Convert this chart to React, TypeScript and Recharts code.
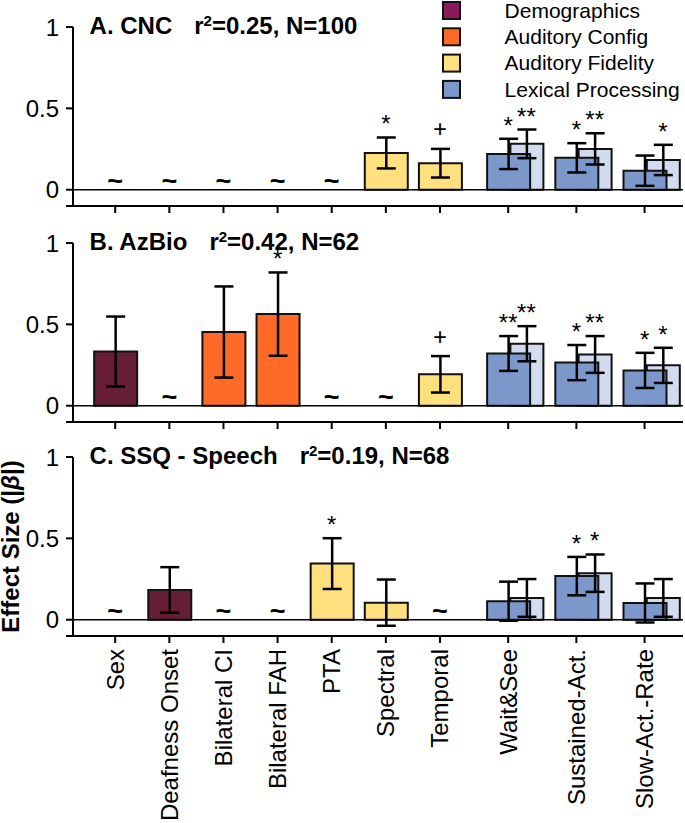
import React from 'react';
import { ComposedChart, Bar, Cell, ErrorBar, XAxis, YAxis, ReferenceLine, Scatter } from 'recharts';

const categories = ['Sex', 'Deafness Onset', 'Bilateral CI', 'Bilateral FAH', 'PTA', 'Spectral', 'Temporal', 'Wait&See', 'Sustained-Act.', 'Slow-Act.-Rate'];
const categoryGroups = ['Demographics', 'Demographics', 'Auditory Config', 'Auditory Config', 'Auditory Fidelity', 'Auditory Fidelity', 'Auditory Fidelity', 'Lexical Processing', 'Lexical Processing', 'Lexical Processing'];
const groupNames = ['Demographics', 'Auditory Config', 'Auditory Fidelity', 'Lexical Processing'];
const yTicks = [-0.1, 0, 0.5, 1];

// A. CNC
const cncValues = [null, null, null, null, null, 0.226, 0.163, 0.22, 0.196, 0.117];
const cncErrors = [null, null, null, null, null, 0.095, 0.088, 0.093, 0.09, 0.093];
const cncMarks = ['', '', '', '', '', '*', '+', '*', '*', ''];
const cncValues2 = [null, null, null, null, null, null, null, 0.282, 0.251, 0.183];
const cncErrors2 = [null, null, null, null, null, null, null, 0.088, 0.096, 0.093];
const cncMarks2 = ['', '', '', '', '', '', '', '**', '**', '*'];

// B. AzBio
const azbioValues = [0.333, null, 0.453, 0.563, null, null, 0.193, 0.321, 0.265, 0.217];
const azbioErrors = [0.215, null, 0.28, 0.256, null, null, 0.112, 0.107, 0.108, 0.108];
const azbioMarks = ['', '', '', '*', '', '', '+', '**', '*', '*'];
const azbioValues2 = [null, null, null, null, null, null, null, 0.381, 0.315, 0.248];
const azbioErrors2 = [null, null, null, null, null, null, null, 0.108, 0.113, 0.108];
const azbioMarks2 = ['', '', '', '', '', '', '', '**', '**', '*'];

// C. SSQ - Speech
const ssqValues = [null, 0.183, null, null, 0.345, 0.105, null, 0.114, 0.268, 0.103];
const ssqErrors = [null, 0.14, null, null, 0.156, 0.142, null, 0.12, 0.118, 0.12];
const ssqMarks = ['', '', '', '', '*', '', '', '', '*', ''];
const ssqValues2 = [null, null, null, null, null, null, null, 0.134, 0.286, 0.134];
const ssqErrors2 = [null, null, null, null, null, null, null, 0.116, 0.115, 0.116];
const ssqMarks2 = ['', '', '', '', '', '', '', '', '*', ''];

const panelLabels = ['A. CNC', 'B. AzBio', 'C. SSQ - Speech'];
const panelR2 = ['0.25', '0.42', '0.19'];
const panelN = ['100', '62', '68'];

const FONT = '"Liberation Sans", Arial, Helvetica, sans-serif';
const groupColors = ['#661e37', '#ff6a29', '#ffe07f', '#7c98cb'];
const legendColors = ['#8a1a5b', '#ff6a29', '#ffe07f', '#7c98cb'];
const pairColor = '#d3dcef';
const AXIS = { stroke: '#000', strokeWidth: 2 };
const PLOT_TOP = 27;
const PLOT_H = 179;
const X_DOMAIN: [number, number] = [-0.78, 10.49];
const SHIFT = 0.338; // light bar sits right of the dark one
const ALT_DOMAIN: [number, number] = [X_DOMAIN[0] - SHIFT, X_DOMAIN[1] - SHIFT];
const Y_DOMAIN: [number, number] = [-0.1, 1];

// paired categories get a wider slot
const positions: number[] = [];
categories.forEach((_, i) => {
  positions.push(i === 0 ? 0 : positions[i - 1] + (categoryGroups[i] === 'Lexical Processing' ? 1.26 : 1));
});

const MarkShape = (p: any) => {
  const s = p.payload.s;
  if (s === '~') {
    return <text x={p.cx} y={p.cy} textAnchor="middle" fontSize={27} fontWeight="bold" fontFamily={FONT} fill="#000">~</text>;
  }
  const dy = s === '+' ? -11.5 : -5;
  return (
    <text x={p.cx} y={p.cy + dy} textAnchor="middle" fontSize={24} fontFamily={FONT} fill="#000">{s}</text>
  );
};

const XTick = (p: any) => {
  const i = positions.findIndex((v) => Math.abs(v - p.payload.value) < 1e-6);
  return (
    <text x={p.x} y={p.y} dy="0.35em" transform={`rotate(-90, ${p.x}, ${p.y})`} textAnchor="end" fontSize={24} fontFamily={FONT} fill="#000">
      {categories[i]}
    </text>
  );
};
const EmptyTick = () => <g />;

function Panel({ top, height, xAxisHeight, values, errors, marks, values2, errors2, marks2, showLabels }: any) {
  const rows = categories.map((name, i) => ({ name, pos: positions[i], v: values[i], e: errors[i], w: values2[i], we: errors2[i] }));
  const tildes = rows.filter((r) => r.v == null).map((r) => ({ pos: r.pos, y: 0, s: '~' }));
  const sig = rows.flatMap((r, i) => (marks[i] ? [{ pos: r.pos, y: r.v + r.e, s: marks[i] }] : []));
  const sig2 = rows.flatMap((r, i) => (marks2[i] ? [{ pos: r.pos, y: r.w + r.we, s: marks2[i] }] : []));

  return (
    <div style={{ position: 'absolute', left: 0, top }}>
      <ComposedChart width={685} height={height} data={rows} margin={{ top: PLOT_TOP, right: 2, bottom: 0, left: 0 }}>
        <XAxis xAxisId="main" type="number" dataKey="pos" domain={X_DOMAIN} allowDataOverflow ticks={positions} interval={0}
          height={xAxisHeight} tickSize={7} tickMargin={6} tick={showLabels ? XTick : EmptyTick} axisLine={AXIS} tickLine={AXIS} />
        <XAxis xAxisId="alt" type="number" dataKey="pos" domain={ALT_DOMAIN} allowDataOverflow hide orientation="top" height={0} />
        <YAxis yAxisId="main" domain={Y_DOMAIN} allowDataOverflow ticks={yTicks} interval={0} width={73} tickSize={7} tickMargin={7}
          tickFormatter={(v: number) => (v < 0 ? '' : String(v))}
          tick={{ fontSize: 24, fill: '#000', fontFamily: FONT }} axisLine={AXIS} tickLine={AXIS} />
        <YAxis yAxisId="alt" domain={Y_DOMAIN} allowDataOverflow hide orientation="right" width={0} />
        <ReferenceLine xAxisId="main" yAxisId="main" y={0} stroke="#000" strokeWidth={1.5} />
        <Bar xAxisId="alt" yAxisId="alt" dataKey="w" barSize={33} fill={pairColor} stroke="#111" strokeWidth={2} isAnimationActive={false}>
          <ErrorBar dataKey="we" width={9.5} stroke="#000" strokeWidth={2.5} isAnimationActive={false} />
        </Bar>
        <Bar xAxisId="main" yAxisId="main" dataKey="v" barSize={43} stroke="#111" strokeWidth={2} isAnimationActive={false}>
          {rows.map((r, i) => (
            <Cell key={r.name} fill={groupColors[groupNames.indexOf(categoryGroups[i])]} />
          ))}
          <ErrorBar dataKey="e" width={9.5} stroke="#000" strokeWidth={2.5} isAnimationActive={false} />
        </Bar>
        <Scatter xAxisId="main" yAxisId="main" data={tildes} dataKey="y" shape={MarkShape} isAnimationActive={false} />
        <Scatter xAxisId="main" yAxisId="main" data={sig} dataKey="y" shape={MarkShape} isAnimationActive={false} />
        <Scatter xAxisId="alt" yAxisId="alt" data={sig2} dataKey="y" shape={MarkShape} isAnimationActive={false} />
      </ComposedChart>
    </div>
  );
}

const panelTops = [0, 216, 430];

export default function App() {
  const yLabelY = panelTops[2] + PLOT_TOP + PLOT_H / 2;
  return (
    <div style={{ position: 'absolute', left: 0, top: 0, width: 685, height: 823, background: '#fff', fontFamily: FONT }}>
      <Panel top={panelTops[0]} height={216} xAxisHeight={10} values={cncValues} errors={cncErrors} marks={cncMarks}
        values2={cncValues2} errors2={cncErrors2} marks2={cncMarks2} showLabels={false} />
      <Panel top={panelTops[1]} height={216} xAxisHeight={10} values={azbioValues} errors={azbioErrors} marks={azbioMarks}
        values2={azbioValues2} errors2={azbioErrors2} marks2={azbioMarks2} showLabels={false} />
      <Panel top={panelTops[2]} height={393} xAxisHeight={187} values={ssqValues} errors={ssqErrors} marks={ssqMarks}
        values2={ssqValues2} errors2={ssqErrors2} marks2={ssqMarks2} showLabels />
      <svg width={685} height={823} style={{ position: 'absolute', left: 0, top: 0, pointerEvents: 'none' }} fontFamily={FONT}>
        {panelLabels.map((label, k) => (
          <text key={label} x={89.6} y={panelTops[k] + PLOT_TOP + 7} fontSize={24} fontWeight="bold" fill="#000">
            {label}
            <tspan dx={22}>r</tspan>
            <tspan dy={-8} fontSize={15}>2</tspan>
            <tspan dy={8}>{`=${panelR2[k]}, N=${panelN[k]}`}</tspan>
          </text>
        ))}
        {groupNames.map((g, i) => (
          <g key={g}>
            <rect x={443} y={10.5 + i * 26.3 - 8.5} width={17} height={17} fill={legendColors[i]} stroke="#111" strokeWidth={2} />
            <text x={504.6} y={10.5 + i * 26.3} dy="0.35em" fontSize={21} fill="#000">{g}</text>
          </g>
        ))}
        <text x={19} y={yLabelY} transform={`rotate(-90, 19, ${yLabelY})`}
          textAnchor="middle" fontSize={24} fontWeight="bold" fill="#000">
          Effect Size (|<tspan fontStyle="italic">β</tspan>|)
        </text>
      </svg>
    </div>
  );
}
